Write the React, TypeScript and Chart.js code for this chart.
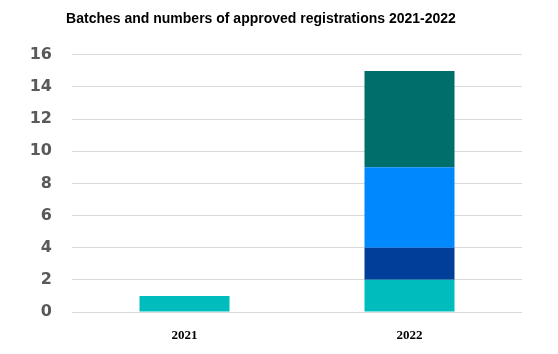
import React, { useEffect, useRef } from "react";
import { Chart, registerables } from "chart.js";

Chart.register(...registerables);

const categories = ["2021", "2022"];
const batchA = [1, 2];
const batchB = [0, 2];
const batchC = [0, 5];
const batchD = [0, 6];
const seriesNames = ["Batch 1", "Batch 2", "Batch 3", "Batch 4"];
const seriesColors = ["#00BDBD", "#003E99", "#0088FF", "#006E6A"];
const titleText = "Batches and numbers of approved registrations 2021-2022";

export default function App() {
  const ref = useRef<HTMLCanvasElement | null>(null);
  useEffect(() => {
    if (!ref.current) return;
    const series = [batchA, batchB, batchC, batchD];
    const chart = new Chart(ref.current, {
      type: "bar",
      data: {
        labels: categories,
        datasets: series.map((d, i) => ({
          label: seriesNames[i],
          data: d,
          backgroundColor: seriesColors[i],
          borderWidth: 0,
          barPercentage: 0.4,
          categoryPercentage: 1,
        })),
      },
      options: {
        animation: false,
        responsive: false,
        maintainAspectRatio: false,
        layout: { padding: { left: 0, right: 36, top: 0, bottom: 0 } },
        plugins: {
          legend: { display: false },
          tooltip: { enabled: false },
          title: {
            display: true,
            text: titleText,
            color: "#000",
            font: { family: "Liberation Sans, Arial, sans-serif", size: 14, weight: "bold" },
            padding: { top: 11, bottom: 27 },
          },
        },
        scales: {
          x: {
            stacked: true,
            grid: { display: false },
            border: { display: false },
            afterFit: (s: any) => { s.height = 42; },
            ticks: {
              color: "#000",
              padding: 8,
              font: { family: "Liberation Serif, Times New Roman, serif", size: 13, weight: "bold" },
            },
          },
          y: {
            stacked: true,
            min: 0,
            max: 16,
            afterFit: (s: any) => { s.width = 72; },
            ticks: {
              stepSize: 2,
              color: "#595959",
              padding: 20,
              font: { family: "DejaVu Sans, sans-serif", size: 16, weight: "bold" },
            },
            grid: { color: "#d9d9d9", drawTicks: false, lineWidth: 1 },
            border: { display: false },
          },
        },
      },
    });
    return () => chart.destroy();
  }, []);
  return (
    <div style={{ position: "fixed", left: 0, top: 0, width: 558, height: 354, background: "#fff" }}>
      <canvas ref={ref} width={558} height={354} style={{ width: 558, height: 354 }} />
    </div>
  );
}
